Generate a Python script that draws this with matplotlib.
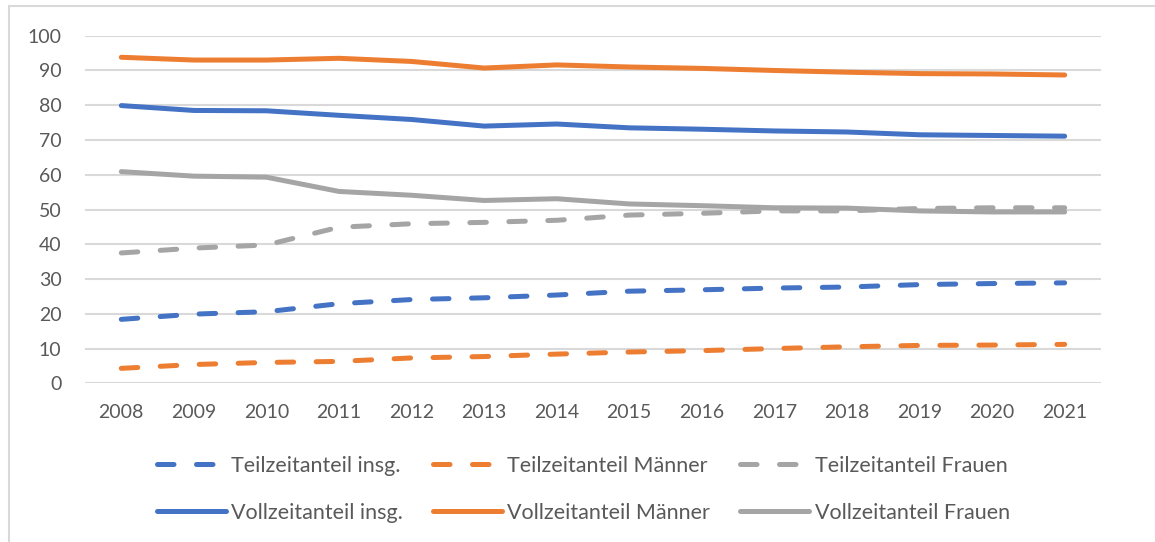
import matplotlib.pyplot as plt
from matplotlib.patches import Rectangle

# Anteile in Prozent, 2008-2021
jahre = ["2008", "2009", "2010", "2011", "2012", "2013", "2014",
         "2015", "2016", "2017", "2018", "2019", "2020", "2021"]
tz_insg = [18.4, 19.9, 20.6, 22.9, 24.1, 24.6, 25.4, 26.5, 26.9, 27.4, 27.7, 28.4, 28.7, 28.9]
tz_maenner = [4.3, 5.4, 6.0, 6.3, 7.3, 7.7, 8.4, 9.0, 9.4, 10.0, 10.5, 10.9, 11.0, 11.2]
tz_frauen = [37.5, 38.9, 39.8, 44.9, 45.9, 46.3, 46.9, 48.4, 48.9, 49.6, 49.6, 50.3, 50.5, 50.5]
vz_insg = [79.9, 78.5, 78.4, 77.1, 75.9, 74.0, 74.6, 73.5, 73.1, 72.6, 72.3, 71.5, 71.3, 71.1]
vz_maenner = [93.8, 93.0, 93.0, 93.5, 92.6, 90.7, 91.6, 91.0, 90.6, 90.0, 89.5, 89.1, 89.0, 88.7]
vz_frauen = [60.9, 59.6, 59.3, 55.2, 54.1, 52.6, 53.1, 51.6, 51.1, 50.5, 50.4, 49.6, 49.3, 49.3]

blau, orange, grau = "#4472c4", "#ed7d31", "#a5a5a5"

plt.rcParams["font.family"] = ["Lato", "DejaVu Sans"]

fig = plt.figure(figsize=(11.55, 5.42), dpi=100)
ax = fig.add_axes([0.0736, 0.2928, 0.8796, 0.6413])

# Rahmen um das Diagramm
fig.patches.append(Rectangle((9 / 1155, -0.1), 1.2, 1 - 6 / 542 + 0.1,
                             transform=fig.transFigure, fill=False,
                             edgecolor="#d9d9d9", linewidth=1.5))

x = range(len(jahre))
lw = 3.6
strich = (3.3, 4.5)
kw = dict(linewidth=lw, solid_capstyle="round", dash_capstyle="round")

h_tz_insg, = ax.plot(x, tz_insg, color=blau, dashes=strich, label="Teilzeitanteil insg.", **kw)
h_tz_m, = ax.plot(x, tz_maenner, color=orange, dashes=strich, label="Teilzeitanteil Männer", **kw)
h_tz_f, = ax.plot(x, tz_frauen, color=grau, dashes=strich, label="Teilzeitanteil Frauen", **kw)
h_vz_insg, = ax.plot(x, vz_insg, color=blau, label="Vollzeitanteil insg.", **kw)
h_vz_m, = ax.plot(x, vz_maenner, color=orange, label="Vollzeitanteil Männer", **kw)
h_vz_f, = ax.plot(x, vz_frauen, color=grau, label="Vollzeitanteil Frauen", **kw)

ax.set_xlim(-0.5, len(jahre) - 0.5)
ax.set_ylim(0, 100)
ax.set_yticks(range(0, 101, 10))
ax.set_xticks(list(x))
ax.set_xticklabels(jahre)
ax.grid(axis="y", color="#d9d9d9", linewidth=1.5)
ax.set_axisbelow(True)
for s in ax.spines.values():
    s.set_visible(False)
ax.tick_params(length=0, labelsize=14, labelcolor="#595959")
ax.tick_params(axis="y", pad=17)
ax.tick_params(axis="x", pad=15)

# Legende zeilenweise: oben Teilzeit, unten Vollzeit
handles = [h_tz_insg, h_vz_insg, h_tz_m, h_vz_m, h_tz_f, h_vz_f]
leg = fig.legend(handles=handles, labels=[h.get_label() for h in handles],
                 ncol=3, loc="center", bbox_to_anchor=(0.505, 0.097),
                 frameon=False, fontsize=15.5, handlelength=3.2, handletextpad=0.25,
                 columnspacing=1.4, labelspacing=1.25)
for t in leg.get_texts():
    t.set_color("#595959")

fig.savefig("out.png", dpi=100)
